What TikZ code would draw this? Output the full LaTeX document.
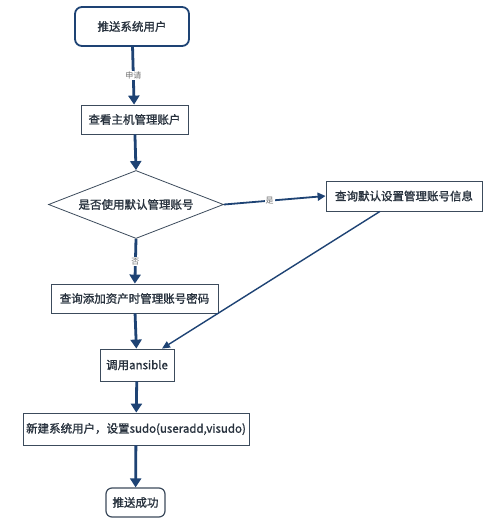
\documentclass[tikz,border=0pt]{standalone}
\usepackage{fontspec}
\setmainfont{Noto Sans CJK SC}
\newfontfamily\cjkb[FakeBold=1.2]{Noto Sans CJK SC}
\usetikzlibrary{arrows.meta,shapes.geometric}
\definecolor{navy}{HTML}{1E4374}
\definecolor{boxline}{HTML}{3C4B5C}
\definecolor{txt}{HTML}{27313D}
\definecolor{lbl}{HTML}{707070}
\begin{document}
\begin{tikzpicture}[x=1pt,y=-1pt,
  base/.style={fill=white, text=txt, inner sep=0pt, font=\cjkb\fontsize{11.5}{13}\selectfont},
  rbox/.style={base, draw=navy, line width=1.8pt, rounded corners=7pt},
  ebox/.style={base, draw=boxline, line width=1.2pt, rounded corners=6pt},
  sbox/.style={base, draw=boxline, line width=0.8pt},
  dbox/.style={base, draw=boxline, line width=0.8pt, shape=diamond, aspect=2.57},
  flow/.style={draw=navy, line width=2.8pt, -{Triangle[width=11pt,length=9pt]}},
  side/.style={draw=navy, line width=1.8pt, -{Triangle[width=8pt,length=8pt]}},
  diag/.style={draw=navy, line width=1.4pt, -{Triangle[width=7pt,length=8pt]}},
  elbl/.style={fill=white, text=lbl, inner sep=1pt, font=\fontsize{8}{9}\selectfont}]
\useasboundingbox (0,0) rectangle (501,520);
\fill[white] (0,0) rectangle (501,520);

\node[rbox, minimum width=114pt, minimum height=39pt] (start) at (132,26.5) {推送系统用户};
\node[sbox, minimum width=107pt, minimum height=29pt] (view) at (134.5,119.5) {查看主机管理账户};
\node[dbox, minimum width=175pt, minimum height=68pt] (dec) at (136,204.5) {是否使用默认管理账号};
\node[sbox, minimum width=156pt, minimum height=30pt] (def) at (404,196) {查询默认设置管理账号信息};
\node[sbox, minimum width=167pt, minimum height=29pt] (add) at (134.5,298.5) {查询添加资产时管理账号密码};
\node[sbox, minimum width=74pt, minimum height=32pt] (ans) at (137,365) {调用ansible};
\node[sbox, minimum width=226pt, minimum height=32pt] (mk) at (136,429) {新建系统用户，设置sudo(useradd,visudo)};
\node[ebox, minimum width=59pt, minimum height=29pt] (done) at (135.5,502.5) {推送成功};

\draw[flow] (start) -- node[elbl] {申请} (view);
\draw[flow] (view) -- (dec.north);
\draw[side] (dec.east) -- node[elbl, pos=0.45] {是} (def.west);
\draw[flow] (dec.south) -- node[elbl] {否} (add);
\draw[flow] (add) -- (ans);
\draw[diag] ([xshift=-24pt]def.south) -- ([xshift=25pt]ans.north);
\draw[flow] (ans) -- (mk);
\draw[flow] (mk) -- (done);
\end{tikzpicture}
\end{document}
